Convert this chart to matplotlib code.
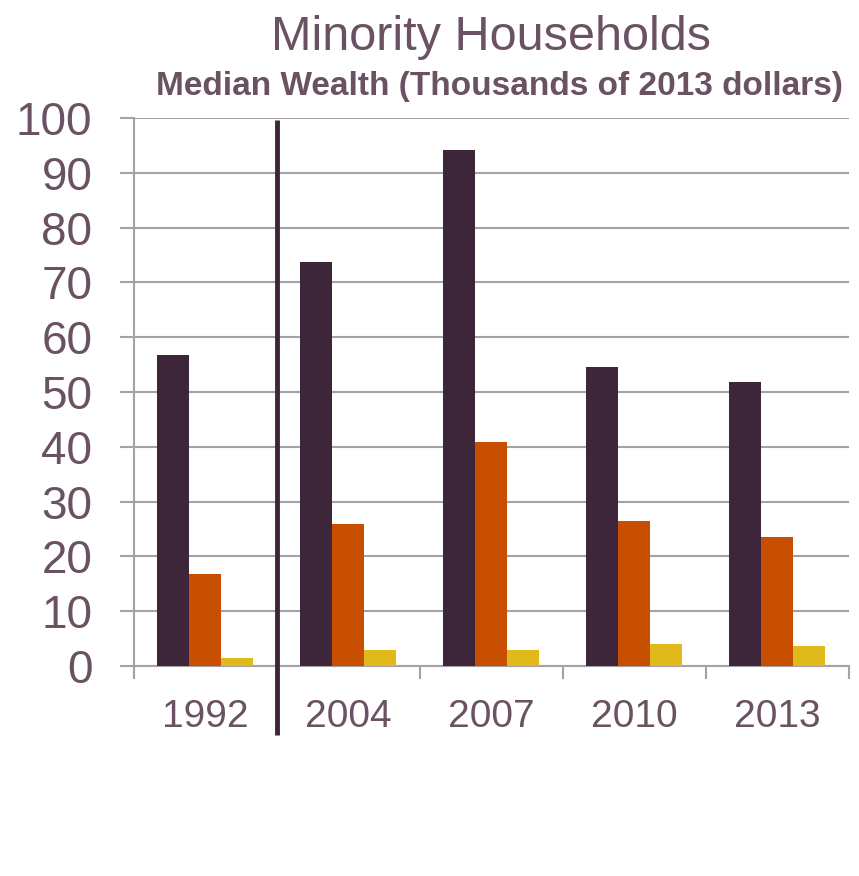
import numpy as np
import matplotlib.pyplot as plt

plt.rcParams['font.family'] = ['Liberation Sans', 'DejaVu Sans']

# Data (thousands of 2013 dollars)
years = ['1992', '2004', '2007', '2010', '2013']
series_a = [56.8, 73.8, 94.2, 54.5, 51.8]   # dark purple
series_b = [16.8, 25.9, 40.9, 26.5, 23.6]   # orange
series_c = [1.5, 3.0, 2.9, 4.0, 3.7]        # yellow

dark = '#3D2639'
orange = '#C94F00'
yellow = '#E0B91C'
text_col = '#6A5262'
grid_col = '#A8A0A4'

fig = plt.figure(figsize=(8.59, 8.76), dpi=100)
ax = fig.add_axes([0.156, 0.2397, 0.832, 0.6256])

x = np.arange(len(years))
w = 0.224
ax.bar(x - w, series_a, w, color=dark, zorder=3)
ax.bar(x, series_b, w, color=orange, zorder=3)
ax.bar(x + w, series_c, w, color=yellow, zorder=3)

ax.set_xlim(-0.5, len(years) - 0.5)
ax.set_ylim(0, 100)

# y axis: gridlines every 10, ticks sticking out to the left
ax.set_yticks(np.arange(0, 101, 10))
ax.yaxis.grid(True, color=grid_col, linewidth=1.5, zorder=0)
ax.tick_params(axis='y', length=10, width=1.5, color=grid_col,
               labelsize=33, labelcolor=text_col, pad=20)

# x axis: labels at centres, tick marks at group boundaries
ax.set_xticks(x)
ax.set_xticklabels(years)
ax.set_xticks(np.arange(-0.5, len(years)), minor=True)
ax.tick_params(axis='x', which='major', length=0, labelsize=28,
               labelcolor=text_col, pad=24)
ax.tick_params(axis='x', which='minor', length=9, width=1.5, color=grid_col)

for side in ['top', 'right']:
    ax.spines[side].set_visible(False)
for side in ['left', 'bottom']:
    ax.spines[side].set_color(grid_col)
    ax.spines[side].set_linewidth(1.5)

# vertical separator between 1992 and the later years
sep = (x[0] + x[1]) / 2
ax.plot([sep, sep], [-12.6, 99.6], color=dark, linewidth=3.5,
        clip_on=False, zorder=5, solid_capstyle='butt')

fig.text(0.572, 0.943, 'Minority Households', ha='center', va='baseline',
         fontsize=35, color=text_col)
fig.text(0.581, 0.8916, 'Median Wealth (Thousands of 2013 dollars)',
         ha='center', va='baseline', fontsize=24, fontweight='bold',
         color=text_col)

fig.savefig('out.png', dpi=100)
